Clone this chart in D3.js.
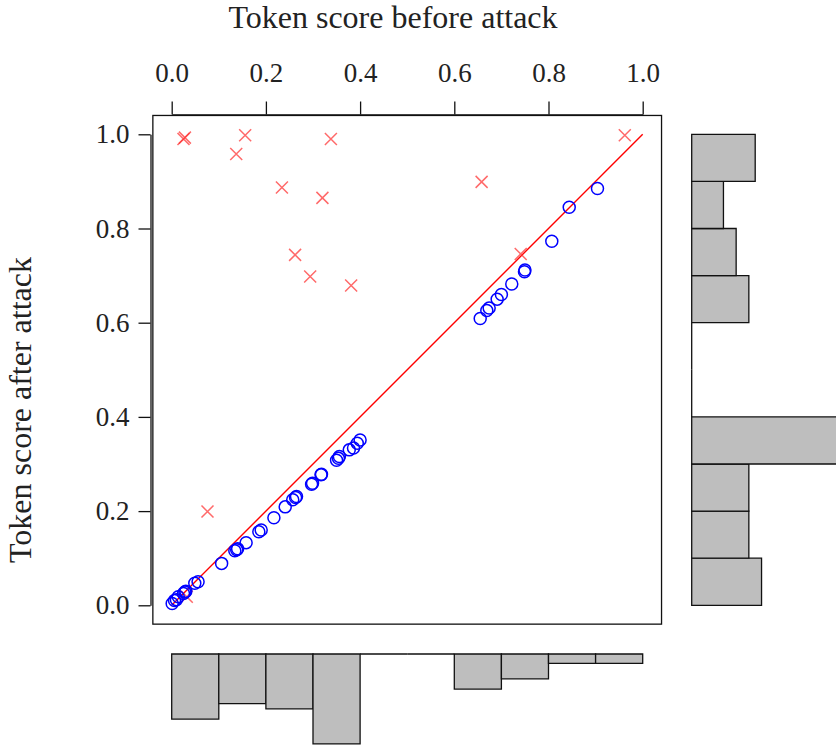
<!DOCTYPE html>
<html>
<head>
<meta charset="utf-8">
<script src="https://cdn.jsdelivr.net/npm/d3@7"></script>
<style>
  body { margin: 0; background: #fff; }
  svg { display: block; }
  text { font-family: "Liberation Serif", "Times New Roman", serif; fill: #222; }
</style>
</head>
<body>
<svg id="chart" width="836" height="747"></svg>
<script>
// points that stayed on the diagonal (blue circles)
const keptX = [0.001, 0.006, 0.010, 0.014, 0.025, 0.030, 0.028, 0.049, 0.056, 0.106,
  0.134, 0.140, 0.138, 0.158, 0.185, 0.190, 0.217, 0.241, 0.257, 0.263, 0.265,
  0.297, 0.299, 0.317, 0.318, 0.350, 0.354, 0.356, 0.377, 0.386, 0.394, 0.400,
  0.655, 0.669, 0.674, 0.691, 0.700, 0.722, 0.749, 0.750, 0.807, 0.844, 0.904]
const keptY = [0.004, 0.010, 0.012, 0.018, 0.025, 0.030, 0.028, 0.047, 0.050, 0.089,
  0.116, 0.120, 0.118, 0.133, 0.156, 0.160, 0.186, 0.209, 0.224, 0.229, 0.231,
  0.257, 0.259, 0.277, 0.278, 0.308, 0.312, 0.316, 0.330, 0.334, 0.344, 0.351,
  0.609, 0.626, 0.631, 0.650, 0.660, 0.682, 0.708, 0.712, 0.773, 0.845, 0.885]

// points that moved (red crosses)
const movedX = [0.025, 0.028, 0.156, 0.338, 0.137, 0.234, 0.320, 0.262, 0.294, 0.381,
  0.658, 0.962, 0.741, 0.076, 0.032]
const movedY = [0.990, 0.993, 0.998, 0.990, 0.958, 0.887, 0.865, 0.744, 0.698, 0.679,
  0.899, 0.998, 0.746, 0.199, 0.018]

// histograms, bins of width 0.1 from 0 to 1
const binEdges = [0, 0.1, 0.2, 0.3, 0.4, 0.5, 0.6, 0.7, 0.8, 0.9]
const beforeCounts = [21, 16, 17.7, 29, 0, 0, 11.3, 8, 3, 3]
const afterCounts = [11, 9, 9, 26, 0, 0, 9, 7, 5, 10]

const ticks = [0, 0.2, 0.4, 0.6, 0.8, 1.0]

const svg = d3.select("#chart")

// main scales (R style 4% padding around 0..1)
const x = d3.scaleLinear().domain([0, 1]).range([171.7, 642.7])
const y = d3.scaleLinear().domain([0, 1]).range([605.3, 134.3])

const boxL = x(-0.04), boxR = x(1.04), boxT = y(1.04), boxB = y(-0.04)

// plot box
svg.append("rect")
  .attr("x", boxL).attr("y", boxT)
  .attr("width", boxR - boxL).attr("height", boxB - boxT)
  .attr("fill", "none").attr("stroke", "#111").attr("stroke-width", 1.3)

// diagonal
svg.append("line")
  .attr("x1", x(0)).attr("y1", y(0))
  .attr("x2", x(1)).attr("y2", y(1))
  .attr("stroke", "#ff0000").attr("stroke-width", 1.4)

// crosses
const crossSize = 6
const crosses = svg.append("g")
  .attr("stroke", "#ff3030").attr("stroke-opacity", 0.72).attr("stroke-width", 1.5)
movedX.forEach((v, i) => {
  const cx = x(v), cy = y(movedY[i])
  crosses.append("path")
    .attr("d", `M${cx - crossSize},${cy - crossSize}L${cx + crossSize},${cy + crossSize}` +
      `M${cx - crossSize},${cy + crossSize}L${cx + crossSize},${cy - crossSize}`)
})

// circles
svg.append("g").selectAll("circle")
  .data(keptX)
  .enter()
  .append("circle")
  .attr("cx", d => x(d))
  .attr("cy", (d, i) => y(keptY[i]))
  .attr("r", 6)
  .attr("fill", "none")
  .attr("stroke", "#0000ff")
  .attr("stroke-width", 1.5)

// top axis
svg.append("g")
  .attr("transform", "translate(0,114.5)")
  .call(d3.axisTop(x).tickValues(ticks).tickFormat(d3.format(".1f")).tickSize(13).tickSizeOuter(0).tickPadding(20))
// left axis
svg.append("g")
  .attr("transform", "translate(150.5,0)")
  .call(d3.axisLeft(y).tickValues(ticks).tickFormat(d3.format(".1f")).tickSize(12).tickSizeOuter(0).tickPadding(9))

svg.selectAll(".domain, .tick line").attr("stroke", "#111").attr("stroke-width", 1.3)
svg.selectAll(".tick text")
  .style("font-family", '"Liberation Serif", "Times New Roman", serif')
  .style("font-size", "27px").attr("fill", "#222")

// axis titles
svg.append("text")
  .attr("x", 393).attr("y", 28)
  .attr("text-anchor", "middle")
  .style("font-size", "32px")
  .text("Token score before attack")

svg.append("text")
  .attr("transform", "translate(31,410) rotate(-90)")
  .attr("text-anchor", "middle")
  .style("font-size", "32px")
  .text("Token score after attack")

// bar outline as a path so empty bins still show as a line
function barPath(x0, y0, w, h) {
  return `M${x0},${y0}h${w}v${h}h${-w}Z`
}

// bottom histogram (before attack scores), hanging down
const hB = d3.scaleLinear().domain([0, 1]).range([0, 3.1])
const bottomTop = 654
svg.append("g").selectAll("path")
  .data(binEdges)
  .enter()
  .append("path")
  .attr("d", (d, i) => barPath(x(d), bottomTop, x(d + 0.1) - x(d), hB(beforeCounts[i])))
  .attr("fill", "#bebebe")
  .attr("stroke", "#111")
  .attr("stroke-width", 1.3)

// right histogram (after attack scores)
const hR = d3.scaleLinear().domain([0, 1]).range([0, 6.35])
const rightLeft = 691.7
svg.append("g").selectAll("path")
  .data(binEdges)
  .enter()
  .append("path")
  .attr("d", (d, i) => barPath(rightLeft, y(d + 0.1), hR(afterCounts[i]), y(d) - y(d + 0.1)))
  .attr("fill", "#bebebe")
  .attr("stroke", "#111")
  .attr("stroke-width", 1.3)
</script>
</body>
</html>
